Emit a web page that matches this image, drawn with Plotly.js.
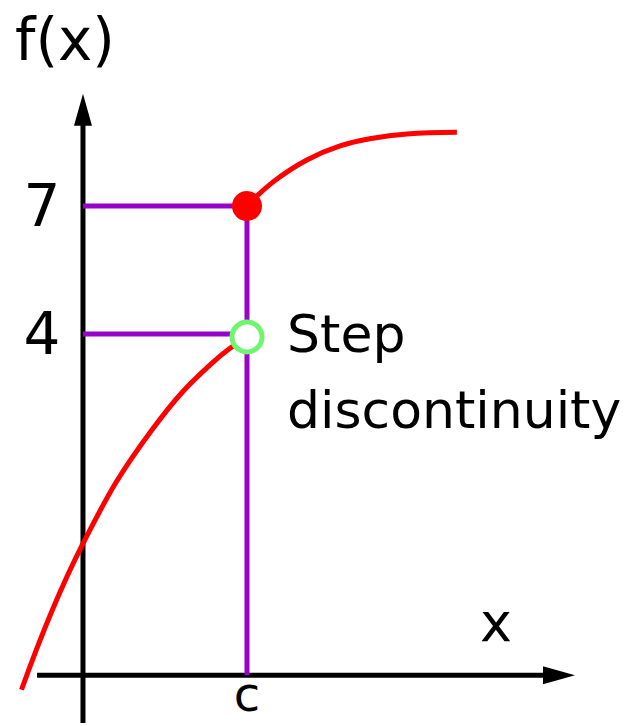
<!DOCTYPE html>
<html>
<head>
<meta charset="utf-8">
<script src="https://cdn.plot.ly/plotly-3.0.1.min.js"></script>
<style>
	html, body { margin: 0; padding: 0; background: #fff; }
	#chart { width: 641px; height: 726px; }
</style>
</head>
<body>
<div id="chart"></div>
<script>
"use strict";

//DATA
// lower branch of f, ends in the open point at x = c
const lowX = [-1.50, -0.02, 1.68, 3.14, 4.0];
const lowY = [-4.34, -0.95, 1.75, 3.31, 3.93];
// upper branch of f, starts at the filled point at x = c
const upX = [4.0, 4.63, 5.46, 6.27, 7.07, 7.90, 9.12];
const upY = [7.0, 7.56, 8.08, 8.41, 8.59, 8.69, 8.73];

const cVal = 4;
const closedY = 7;
const openY = 3.93;
const levelY = [7, 4];
const yTickVals = [4, 7];
const yTickText = ['4', '7'];
const xTickVals = [4];
const xTickText = ['c'];

// axis extents (data units)
const xAxisY = -4, xAxisFrom = -1.12, xAxisTo = 12.0;
const yAxisX = 0, yAxisFrom = -5.12, yAxisTo = 9.63;

//LAYOUT HELPERS
const W = 641, H = 726;
const xRange = [-2.024, 13.61];
const yRange = [-5.19, 11.83];
const pxX = W / (xRange[1] - xRange[0]);
const pxY = H / (yRange[1] - yRange[0]);
const FONT = 'DejaVu Sans';

function line(x, y, color, width){
	return {x: x, y: y, mode: 'lines', type: 'scatter',
		line: {color: color, width: width}, hoverinfo: 'skip', showlegend: false};
}

function arrowHead(tx, ty, dir){
	// dir: 'up' or 'right'; 32px long, 18px wide
	const L = 32, Wd = 9;
	let x, y;
	if(dir == 'up'){
		x = [tx, tx - Wd/pxX, tx + Wd/pxX, tx];
		y = [ty, ty - L/pxY, ty - L/pxY, ty];
	}
	else{
		x = [tx, tx - L/pxX, tx - L/pxX, tx];
		y = [ty, ty + Wd/pxY, ty - Wd/pxY, ty];
	}
	return {x: x, y: y, mode: 'lines', type: 'scatter', fill: 'toself',
		fillcolor: '#000', line: {color: '#000', width: 0},
		hoverinfo: 'skip', showlegend: false};
}

const purple = '#9900cc';
const traces = [];

// axes
traces.push(line([yAxisX, yAxisX], [yAxisFrom, yAxisTo - 30/pxY], '#000', 5));
traces.push(line([xAxisFrom, xAxisTo - 28/pxX], [xAxisY, xAxisY], '#000', 5));
traces.push(arrowHead(yAxisX, yAxisTo, 'up'));
traces.push(arrowHead(xAxisTo, xAxisY, 'right'));

// guide lines
levelY.forEach(v => traces.push(line([yAxisX, cVal], [v, v], purple, 5)));
traces.push(line([cVal, cVal], [closedY, xAxisY], purple, 5));

// function branches
const curve = (x, y) => ({x: x, y: y, mode: 'lines', type: 'scatter',
	line: {color: '#ff0000', width: 5, shape: 'spline', smoothing: 1.3},
	hoverinfo: 'skip', showlegend: false});
traces.push(curve(lowX, lowY));
traces.push(curve(upX, upY));

// end points
traces.push({x: [cVal], y: [closedY], mode: 'markers', type: 'scatter',
	marker: {size: 30, color: '#ff0000'}, hoverinfo: 'skip', showlegend: false});
traces.push({x: [cVal], y: [openY], mode: 'markers', type: 'scatter',
	marker: {size: 30, color: '#ffffff', line: {color: '#6ef76e', width: 5}},
	hoverinfo: 'skip', showlegend: false});

const txt = (text, x, y, size, xanchor) => ({
	text: text, x: x, y: y, xref: 'x', yref: 'y', showarrow: false,
	xanchor: xanchor || 'center', yanchor: 'middle',
	font: {family: FONT, size: size, color: '#000'}
});

const layout = {
	width: W, height: H,
	margin: {l: 0, r: 0, t: 0, b: 0},
	paper_bgcolor: '#fff', plot_bgcolor: '#fff',
	showlegend: false,
	xaxis: {
		range: xRange, showgrid: false, zeroline: false, showline: false,
		anchor: 'free', position: 51/H,
		tickvals: xTickVals, ticktext: xTickText,
		ticks: '', ticklabelstandoff: -13,
		tickfont: {family: FONT, size: 48, color: '#000'}
	},
	yaxis: {
		range: yRange, showgrid: false, zeroline: false, showline: false,
		anchor: 'free', position: 83/W,
		tickvals: yTickVals, ticktext: yTickText,
		ticks: 'outside', ticklen: 11, tickcolor: 'rgba(0,0,0,0)',
		tickfont: {family: FONT, size: 58, color: '#000'}
	},
	annotations: [
		txt('f(x)', -0.44, 10.89, 58),
		txt('x', 10.07, -2.77, 54),
		txt('Step', 4.93, 4.0, 52, 'left'),
		txt('discontinuity', 4.93, 2.22, 52, 'left')
	]
};

Plotly.newPlot('chart', traces, layout, {displayModeBar: false, staticPlot: true});
</script>
</body>
</html>
